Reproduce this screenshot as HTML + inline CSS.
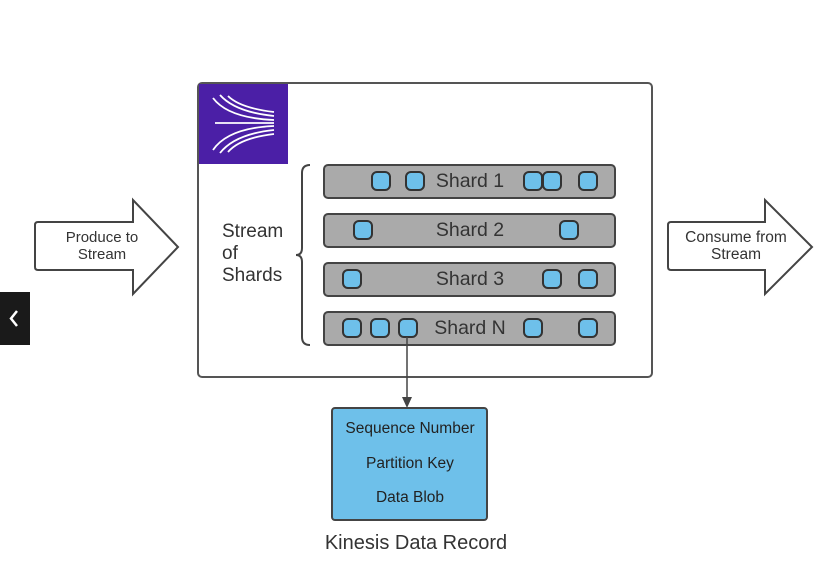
<!DOCTYPE html>
<html><head><style>
body{margin:0;width:827px;height:567px;background:#fff;overflow:hidden;font-family:"Liberation Sans",sans-serif}
</style></head><body>
<svg width="827" height="567" xmlns="http://www.w3.org/2000/svg" font-family="Liberation Sans, sans-serif">
<rect x="0" y="292" width="30" height="53" fill="#1a1a1a"/>
<path d="M17 311 L11 318.5 L17 326" stroke="#fff" stroke-width="2.5" fill="none"/>
<path d="M38 222 L133 222 L133 200 L178 247 L133 294 L133 270 L38 270 Q35 270 35 267 L35 225 Q35 222 38 222Z" fill="#fff" stroke="#444" stroke-width="2"/>
<text x="102" y="242" font-size="15" text-anchor="middle" fill="#333">Produce to</text>
<text x="102" y="259" font-size="15" text-anchor="middle" fill="#333">Stream</text>
<path d="M671 222 L765 222 L765 200 L812 247 L765 294 L765 270 L671 270 Q668 270 668 267 L668 225 Q668 222 671 222Z" fill="#fff" stroke="#444" stroke-width="2"/>
<text x="736" y="242" font-size="15.5" text-anchor="middle" fill="#333">Consume from</text>
<text x="736" y="259" font-size="15.5" text-anchor="middle" fill="#333">Stream</text>
<rect x="198" y="83" width="454" height="294" rx="4" fill="#fff" stroke="#555" stroke-width="2"/>
<rect x="199" y="84" width="89" height="80" fill="#4b1fa6"/>
<g stroke="#fff" stroke-width="1.8" fill="none">
<path d="M213 98 Q228 118 274 120"/><path d="M220 95 Q235 112 274 116"/><path d="M228 96 Q240 108 274 112"/>
<path d="M213 150 Q228 128 274 126"/><path d="M220 153 Q235 134 274 130"/><path d="M228 152 Q240 138 274 134"/>
<path d="M215 123 L274 123"/>
</g>
<text x="222" y="237" font-size="19" fill="#333">Stream</text>
<text x="222" y="259" font-size="19" fill="#333">of</text>
<text x="222" y="281" font-size="19" fill="#333">Shards</text>
<path d="M310 165 Q302 165 302 173 L302 248 Q302 255 296 255 Q302 255 302 262 L302 337 Q302 345 310 345" stroke="#444" stroke-width="2" fill="none"/>
<g stroke="#444" stroke-width="2" fill="#aaa">
<rect x="324" y="165" width="291" height="33" rx="4"/>
<rect x="324" y="214" width="291" height="33" rx="4"/>
<rect x="324" y="263" width="291" height="33" rx="4"/>
<rect x="324" y="312" width="291" height="33" rx="4"/>
</g>
<g font-size="19.5" fill="#333" text-anchor="middle">
<text x="470" y="187">Shard 1</text><text x="470" y="236">Shard 2</text><text x="470" y="285">Shard 3</text><text x="470" y="334">Shard N</text>
</g>
<g stroke="#333" stroke-width="2" fill="#6ec0ea">
<rect x="372" y="172" width="18" height="18" rx="5"/><rect x="406" y="172" width="18" height="18" rx="5"/><rect x="524" y="172" width="18" height="18" rx="5"/><rect x="543" y="172" width="18" height="18" rx="5"/><rect x="579" y="172" width="18" height="18" rx="5"/>
<rect x="354" y="221" width="18" height="18" rx="5"/><rect x="560" y="221" width="18" height="18" rx="5"/>
<rect x="343" y="270" width="18" height="18" rx="5"/><rect x="543" y="270" width="18" height="18" rx="5"/><rect x="579" y="270" width="18" height="18" rx="5"/>
<rect x="343" y="319" width="18" height="18" rx="5"/><rect x="371" y="319" width="18" height="18" rx="5"/><rect x="399" y="319" width="18" height="18" rx="5"/><rect x="524" y="319" width="18" height="18" rx="5"/><rect x="579" y="319" width="18" height="18" rx="5"/>
</g>
<line x1="407" y1="337" x2="407" y2="398" stroke="#444" stroke-width="1.5"/>
<path d="M402 397 L407 408 L412 397Z" fill="#444"/>
<rect x="332" y="408" width="155" height="112" rx="3" fill="#6ec0ea" stroke="#444" stroke-width="2"/>
<g font-size="15.5" fill="#222" text-anchor="middle">
<text x="410" y="433">Sequence Number</text><text x="410" y="468">Partition Key</text><text x="410" y="502">Data Blob</text>
</g>
<text x="416" y="549" font-size="20" fill="#333" text-anchor="middle">Kinesis Data Record</text>
</svg>
</body></html>
